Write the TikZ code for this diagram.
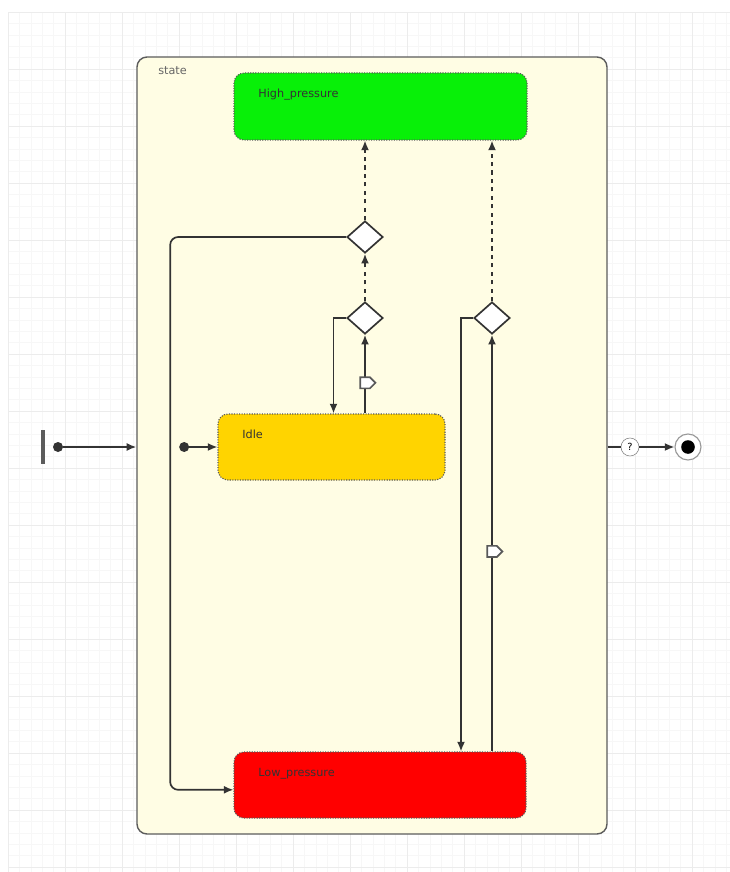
\documentclass[tikz,border=0pt]{standalone}
\usepackage{fontspec}
\setmainfont{DejaVu Sans}
\usepackage{tikz}
\usetikzlibrary{calc}
\usetikzlibrary{shapes.geometric,shapes.symbols}
\usetikzlibrary{arrows.meta,arrows}
\usetikzlibrary{positioning}
\definecolor{paper}{HTML}{FFFDE4}
\definecolor{edge}{HTML}{333333}
\definecolor{highgreen}{HTML}{08F008}
\definecolor{idlegold}{HTML}{FFD400}
\definecolor{lowred}{HTML}{FF0000}
\tikzset{
  container/.style={rectangle, draw=edge!80, fill=paper, line width=1pt, rounded corners=.25cm},
  statebox/.style={rectangle, draw=gray!70!black, densely dotted, line width=.8pt, rounded corners=.25cm},
  choice/.style={diamond, draw=edge, fill=white, line width=1.2pt, minimum width=.9cm, minimum height=.8cm, inner sep=0pt},
  initial/.style={circle, fill=edge, inner sep=0pt, minimum size=.25cm},
  exitpoint/.style={circle, draw=gray, fill=white, inner sep=0pt, minimum size=.45cm, font=\scriptsize},
  final/.style={circle, draw=gray!80, fill=white, line width=.8pt, minimum size=.65cm,
    path picture={\fill[black] (path picture bounding box.center) circle (.17cm);}},
  trigger/.style={signal, signal to=east, draw=gray!70!black, fill=white, inner sep=0pt,
    minimum width=.38cm, minimum height=.28cm},
  arrow/.style={draw=edge, -{Latex[length=2.4mm,width=2mm]}, line width=1.2pt},
  wire/.style={draw=edge, line width=1.2pt}
  }

\begin{document}
\begin{tikzpicture}[font=\footnotesize]
	\useasboundingbox (0,0) rectangle (18.25,-21.8);
	\fill[white] (0,0) rectangle (18.25,-21.8);
	% Grid
	\begin{scope}[shift={(0.2,-0.3)}]
		\draw[gray!6, line width=.3pt, step=0.285] (0,0) grid (18.05,-21.5);
		\draw[gray!15, line width=.4pt, step=1.425] (0,0) grid (18.05,-21.5);
	\end{scope}

	% Frame
	\node[container, minimum width=11.75cm, minimum height=19.425cm] (state) at (9.3,-11.1375) {};
	\node[anchor=north west, text=gray!80!black, inner sep=0pt] (title) at (3.95,-1.65) {state};

	% Nodes
	\node[statebox, fill=highgreen, minimum width=7.325cm, minimum height=1.675cm,
	  label={[anchor=north west, text=edge, xshift=.5cm, yshift=-.3cm]north west:High\_pressure}] (high) at (9.5125,-2.6625) {};
	\node[statebox, fill=idlegold, minimum width=5.675cm, minimum height=1.65cm,
	  label={[anchor=north west, text=edge, xshift=.5cm, yshift=-.3cm]north west:Idle}] (idle) at (8.2875,-11.175) {};
	\node[statebox, fill=lowred, minimum width=7.3cm, minimum height=1.65cm,
	  label={[anchor=north west, text=edge, xshift=.5cm, yshift=-.3cm]north west:Low\_pressure}] (low) at (9.5,-19.625) {};
	\node[choice] (d1) at (9.125,-5.925) {};
	\node[choice] (d2) at (9.125,-7.95) {};
	\node[choice] (d3) at (12.3,-7.95) {};
	\node[initial, left = .7cm of idle] (inner) {};
	\node[rectangle, fill=edge!80, inner sep=0pt, minimum width=.08cm, minimum height=.85cm] (bar) at (1.075,-11.175) {};
	\node[initial] (start) at (1.45,-11.175) {};
	\node[exitpoint] (exit) at (15.75,-11.175) {?};
	\node[final] (end) at (17.2,-11.175) {};

	% Arrow
	\draw [arrow] (start) -- (start -| state.west);
	\draw [arrow] (inner) -- (idle);
	\draw [wire] (exit -| state.east) -- (exit);
	\draw [arrow] (exit) -- (end);
	\draw [arrow] (d2 |- idle.north) -- node[trigger, pos=.39]{} (d2.south);
	\draw [arrow] (d2.west) -| ([xshift=.05cm]idle.north);
	\draw [arrow, dashed] (d2.north) -- (d1.south);
	\draw [arrow, dashed] (d1.north) -- (d1 |- high.south);
	\draw [arrow, rounded corners=.2cm] (d1.west) -- ++(-4.4cm,0) |- ([yshift=-.12cm]low.west);
	\draw [arrow] (d3 |- low.north) -- node[trigger, pos=.48]{} (d3.south);
	\draw [arrow] (d3.west) -| ([xshift=-.775cm]d3 |- low.north);
	\draw [arrow, dashed] (d3.north) -- (d3 |- high.south);
\end{tikzpicture}
\end{document}
